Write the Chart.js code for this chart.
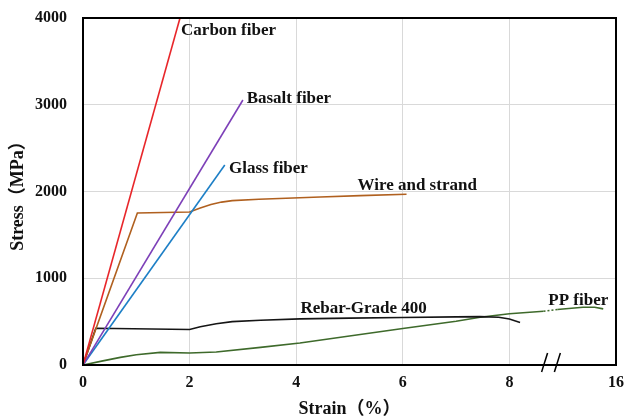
<!DOCTYPE html>
<html>
<head>
<meta charset="utf-8">
<script src="https://cdn.jsdelivr.net/npm/chart.js@4"></script>
<style>
  html, body { margin: 0; padding: 0; background: #fff; }
  #wrap { width: 626px; height: 420px; }
</style>
</head>
<body>
<div id="wrap"><canvas id="stressChart" width="626" height="420"></canvas></div>
<script>
// Strain (%) / stress (MPa)
const carbonStrain = [0, 1.82];
const carbonStress = [0, 4000];
const basaltStrain = [0, 3.0];
const basaltStress = [0, 3055];
const glassStrain = [0, 2.66];
const glassStress = [0, 2305];
const wireStrain = [0, 1.02, 2.0, 2.2, 2.4, 2.6, 2.8, 3.3, 4.45, 5.2, 6.07];
const wireStress = [0, 1752, 1764, 1810, 1850, 1878, 1895, 1911, 1937, 1952, 1969];
const rebarStrain = [0, 0.24, 2.0, 2.2, 2.5, 2.8, 3.33, 4.07, 5, 6, 7, 7.45, 7.8, 8.0, 8.2];
const rebarStress = [0, 423, 410, 440, 475, 500, 515, 532, 540, 548, 555, 558, 550, 530, 490];
const ppStrain = [0, 0.35, 0.7, 1.0, 1.45, 2.0, 2.5, 3.33, 4.07, 5, 6, 7, 7.45, 8.0, 8.64, 8.9, 9.38, 9.6, 9.76];
const ppStress = [0, 45, 88, 118, 146, 139, 150, 203, 254, 335, 420, 505, 550, 590, 620, 640, 666, 665, 647];

const xTicks = [0, 2, 4, 6, 8, 10];
const xTickLabels = ['0', '2', '4', '6', '8', '16'];

// curve labels: [text, strain, stress]
const curveLabels = [
  ['Carbon fiber', 1.84, 3853],
  ['Basalt fiber', 3.07, 3067],
  ['Glass fiber', 2.74, 2269],
  ['Wire and strand', 5.15, 2073],
  ['Rebar-Grade 400', 4.08, 651],
  ['PP fiber', 8.73, 744]
];

const serif = '"Liberation Serif", "Times New Roman", "Noto Sans CJK SC", serif';

function pts(xs, ys) {
  return xs.map((x, i) => ({ x: x, y: ys[i] }));
}

function line(label, xs, ys, color, extra) {
  return Object.assign({
    label: label,
    data: pts(xs, ys),
    borderColor: color,
    backgroundColor: color,
    borderWidth: 1.6,
    pointRadius: 0,
    showLine: true,
    tension: 0,
    fill: false
  }, extra || {});
}

// frame, break marks and the curve names
const decorations = {
  id: 'decorations',
  afterDatasetsDraw(chart) {
    const { ctx, chartArea: a, scales } = chart;
    ctx.save();
    ctx.strokeStyle = '#000';
    ctx.lineWidth = 2;
    ctx.strokeRect(a.left, a.top, a.right - a.left, a.bottom - a.top);

    // axis break
    ctx.lineWidth = 1.5;
    [8.66, 8.9].forEach(v => {
      const px = scales.x.getPixelForValue(v);
      ctx.beginPath();
      ctx.moveTo(px - 3, a.bottom + 7);
      ctx.lineTo(px + 3, a.bottom - 12);
      ctx.stroke();
    });

    ctx.fillStyle = '#111';
    ctx.font = 'bold 17px ' + serif;
    ctx.textBaseline = 'middle';
    ctx.textAlign = 'left';
    curveLabels.forEach(([t, x, y]) => {
      ctx.fillText(t, scales.x.getPixelForValue(x), scales.y.getPixelForValue(y));
    });
    ctx.restore();
  }
};

const ctx = document.getElementById('stressChart').getContext('2d');
new Chart(ctx, {
  type: 'scatter',
  data: {
    datasets: [
      line('Carbon fiber', carbonStrain, carbonStress, '#e8262a'),
      line('Basalt fiber', basaltStrain, basaltStress, '#7d40b8'),
      line('Glass fiber', glassStrain, glassStress, '#1d7fc6'),
      line('Wire and strand', wireStrain, wireStress, '#b0601f'),
      line('Rebar-Grade 400', rebarStrain, rebarStress, '#151515'),
      line('PP fiber', ppStrain, ppStress, '#3e6a2b', {
        segment: {
          borderDash: c => (c.p0.parsed.x >= 8.6 && c.p1.parsed.x <= 8.95) ? [2, 2] : undefined
        }
      })
    ]
  },
  options: {
    responsive: false,
    animation: false,
    layout: { padding: { top: 18, right: 10, left: 0, bottom: 0 } },
    plugins: {
      legend: { display: false },
      tooltip: { enabled: false }
    },
    scales: {
      x: {
        type: 'linear',
        min: 0,
        max: 10,
        afterBuildTicks: s => { s.ticks = xTicks.map(v => ({ value: v })); },
        afterFit: s => { s.height = 55; s.paddingLeft = 0; s.paddingRight = 0; },
        ticks: {
          padding: 8,
          color: '#111',
          font: { family: serif, size: 16, weight: 'bold' },
          callback: v => xTickLabels[xTicks.indexOf(v)]
        },
        grid: { color: '#d9d9d9', lineWidth: 1, drawTicks: false },
        border: { color: '#000', width: 2 },
        title: {
          display: true,
          text: 'Strain（%）',
          color: '#111',
          font: { family: serif, size: 18, weight: 'bold' },
          padding: { top: 2, bottom: 0 }
        }
      },
      y: {
        min: 0,
        max: 4000,
        afterFit: s => { s.width = 83; s.paddingTop = 0; s.paddingBottom = 0; },
        ticks: {
          stepSize: 1000,
          padding: 16,
          color: '#111',
          font: { family: serif, size: 16, weight: 'bold' },
          callback: v => String(v)
        },
        grid: { color: '#d9d9d9', lineWidth: 1, drawTicks: false },
        border: { color: '#000', width: 2 },
        title: {
          display: true,
          text: 'Stress（MPa）',
          color: '#111',
          font: { family: serif, size: 18, weight: 'bold' },
          padding: { top: 8, bottom: 0 }
        }
      }
    }
  },
  plugins: [decorations]
});
</script>
</body>
</html>
